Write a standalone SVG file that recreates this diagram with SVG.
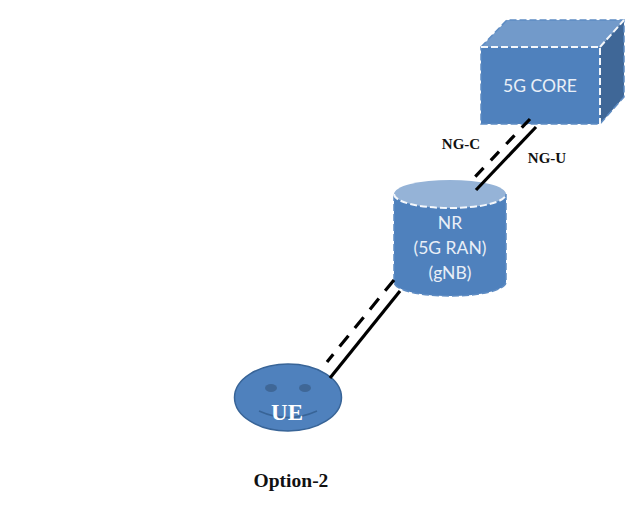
<svg xmlns="http://www.w3.org/2000/svg" width="640" height="509" viewBox="0 0 640 509">
<style>
.body{fill:#4f81bd}
.edge{stroke:#5e8cc3;stroke-width:1.500;stroke-dasharray:7 3;fill:none}
.inner{stroke:#f4f7fb;stroke-width:2;stroke-dasharray:7 3;fill:none}
.light{font-family:Lato,"Open Sans",sans-serif;fill:#e9eff7;font-size:17.500px;text-anchor:middle}
.serif{font-family:"Liberation Serif",serif;font-weight:bold;fill:#111;text-anchor:middle}
.solid{stroke:#000;stroke-width:3.200;fill:none}
.dash{stroke:#000;stroke-width:3.200;fill:none}
</style>
<rect width="640" height="509" fill="#fff"/>
<g id="core">
<path d="M481 47L507 20H624L600 47Z" fill="#729aca"/>
<path d="M600 47L624 20V97L600 124Z" fill="#3f6797"/>
<rect class="body" x="481" y="47" width="119" height="77"/>
<path class="edge" d="M481 47L507 20H624V97L600 124H481Z"/>
<path class="inner" d="M481 47H600V124M600 47L624 20"/>
<text class="light" x="540" y="92">5G CORE</text>
</g>
<g id="ran">
<path class="body" d="M394 194V282C394 290 419 296 450 296C481 296 506 290 506 282V194Z"/>
<ellipse cx="450" cy="194" rx="56" ry="14" fill="#95b3d7"/>
<path class="edge" d="M394 194V282C394 290 419 296 450 296C481 296 506 290 506 282V194"/>
<path class="inner" d="M394 194C394 202 419 208 450 208C481 208 506 202 506 194"/>
<text class="light" x="450" y="229">NR</text>
<text class="light" x="450" y="254">(5G RAN)</text>
<text class="light" x="450" y="279">(gNB)</text>
</g>
<g id="ue">
<ellipse cx="288" cy="397.500" rx="53.500" ry="33.500" fill="#4f81bd" stroke="#386497" stroke-width="1.500"/>
<ellipse cx="271" cy="388" rx="6" ry="4" fill="#3f6797"/>
<ellipse cx="305" cy="388" rx="6" ry="4" fill="#3f6797"/>
<path d="M259 411Q288 424 317 411" fill="none" stroke="#386497" stroke-width="1.500"/>
<text class="serif" x="287" y="420" font-size="23" style="fill:#fff">UE</text>
</g>
<g id="connectors">
<line class="dash" stroke-dasharray="12 10.500" x1="530" y1="119" x2="474" y2="178"/>
<line class="solid" x1="536" y1="127" x2="476" y2="190"/>
<line class="dash" stroke-dasharray="14 10" x1="394" y1="280" x2="327" y2="362"/>
<line class="solid" x1="400" y1="291" x2="330" y2="378"/>
</g>
<g id="labels">
<text class="serif" x="461" y="149" font-size="15">NG-C</text>
<text class="serif" x="547" y="163" font-size="15">NG-U</text>
<text class="serif" x="291" y="487" font-size="19.500">Option-2</text>
</g>
</svg>
